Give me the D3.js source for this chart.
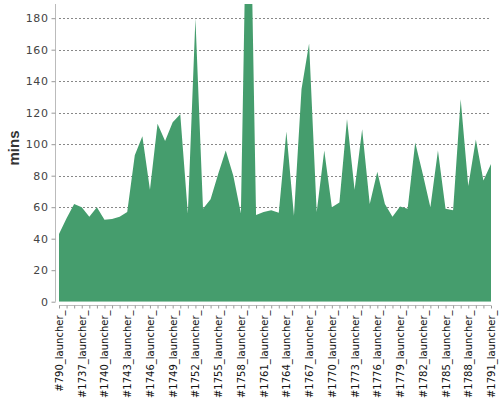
<!DOCTYPE html>
<html>
<head>
<meta charset="utf-8">
<script src="https://cdn.jsdelivr.net/npm/d3@7"></script>
<style>
  body { margin: 0; background: #fff; }
  svg { display: block; font-family: "DejaVu Sans", sans-serif; }
</style>
</head>
<body>
<div id="chart"></div>
<script>
// build numbers along the x axis
const builds = [790, 1735, 1736, 1737, 1738, 1739, 1740, 1741, 1742, 1743,
    1744, 1745, 1746, 1747, 1748, 1749, 1750, 1751, 1752, 1753,
    1754, 1755, 1756, 1757, 1758, 1759, 1760, 1761, 1762, 1763,
    1764, 1765, 1766, 1767, 1768, 1769, 1770, 1771, 1772, 1773,
    1774, 1775, 1776, 1777, 1778, 1779, 1780, 1781, 1782, 1783,
    1784, 1785, 1786, 1787, 1788, 1789, 1790, 1791];

// duration of each build, minutes
const minutes = [43, 53, 62, 60, 54, 60, 52, 52.5, 54, 57,
    93, 105, 71, 113, 102, 114, 119, 56, 180, 59,
    65, 81, 96, 80, 56, 330, 55, 57, 58, 56.5,
    108, 54.5, 135, 164, 57, 96, 60, 63, 116, 71,
    109.5, 62, 82.5, 62, 54, 60.5, 59, 101, 81, 60,
    96, 59, 58, 128.5, 73.5, 103, 77, 87.5];

const yTicks = [0, 20, 40, 60, 80, 100, 120, 140, 160, 180];

const labels = builds.map(b => "#" + b + "_launcher_");

function drawChart() {
    const svg = d3.select("#chart").append("svg")
        .attr("width", 500)
        .attr("height", 400);

    const x = d3.scaleLinear()
        .domain([0, minutes.length - 1])
        .range([59, 491]);

    const y = d3.scaleLinear()
        .domain([0, 189])
        .range([301.7, 4]);

    // Clip so the tall spike is cut at the top
    svg.append("clipPath")
        .attr("id", "plot-clip")
        .append("rect")
        .attr("x", x.range()[0])
        .attr("y", y.range()[1])
        .attr("width", x.range()[1] - x.range()[0])
        .attr("height", y.range()[0] - y.range()[1]);

    // Grid lines
    svg.append("g")
        .selectAll("line")
        .data(yTicks.filter(d => d > 0))
        .enter()
        .append("line")
        .attr("x1", x.range()[0])
        .attr("x2", x.range()[1])
        .attr("y1", d => Math.round(y(d)) + 0.5)
        .attr("y2", d => Math.round(y(d)) + 0.5)
        .style("stroke", "#888")
        .style("stroke-width", 1)
        .style("stroke-dasharray", "2,2");

    // Area
    const area = d3.area()
        .x((d, i) => x(i))
        .y0(y(0))
        .y1(d => y(d));

    svg.append("path")
        .datum(minutes)
        .attr("clip-path", "url(#plot-clip)")
        .attr("d", area)
        .attr("fill", "#459d6d");

    // Y axis (offset 4px left of plot)
    const yAxis = svg.append("g")
        .attr("transform", "translate(55.5, 0)")
        .call(d3.axisLeft(y).tickValues(yTicks).tickSize(4).tickPadding(3));

    yAxis.select(".domain")
        .attr("d", `M0,${y.range()[1]}V${y.range()[0]}`)
        .style("stroke", "#bbb");
    yAxis.selectAll(".tick line").style("stroke", "#999");
    yAxis.selectAll(".tick text")
        .style("font-size", "11px")
        .style("letter-spacing", "0.6px")
        .style("fill", "#444")
        .style("font-family", "DejaVu Sans");

    // X axis (offset 4px below plot)
    const xAxis = svg.append("g")
        .attr("transform", "translate(0, 305.5)")
        .call(d3.axisBottom(x)
            .tickValues(d3.range(minutes.length))
            .tickSize(3)
            .tickFormat(i => i % 3 === 0 ? labels[i] : ""));

    xAxis.select(".domain")
        .attr("d", `M${x.range()[0]},0H${x.range()[1]}`)
        .style("stroke", "#bbb");
    xAxis.selectAll(".tick line").style("stroke", "#999");
    xAxis.selectAll(".tick text")
        .attr("transform", "rotate(-90)")
        .attr("x", -5)
        .attr("y", 0)
        .attr("dy", "0.35em")
        .style("text-anchor", "end")
        .style("font-size", "10px")
        .style("fill", "#111")
        .style("font-family", "DejaVu Sans");

    // Y axis label
    svg.append("text")
        .attr("transform", "rotate(-90)")
        .attr("x", -148)
        .attr("y", 19)
        .style("text-anchor", "middle")
        .style("font-size", "15px")
        .style("font-weight", "bold")
        .style("font-family", "Liberation Sans")
        .style("fill", "#333")
        .text("mins");
}

drawChart();
</script>
</body>
</html>
